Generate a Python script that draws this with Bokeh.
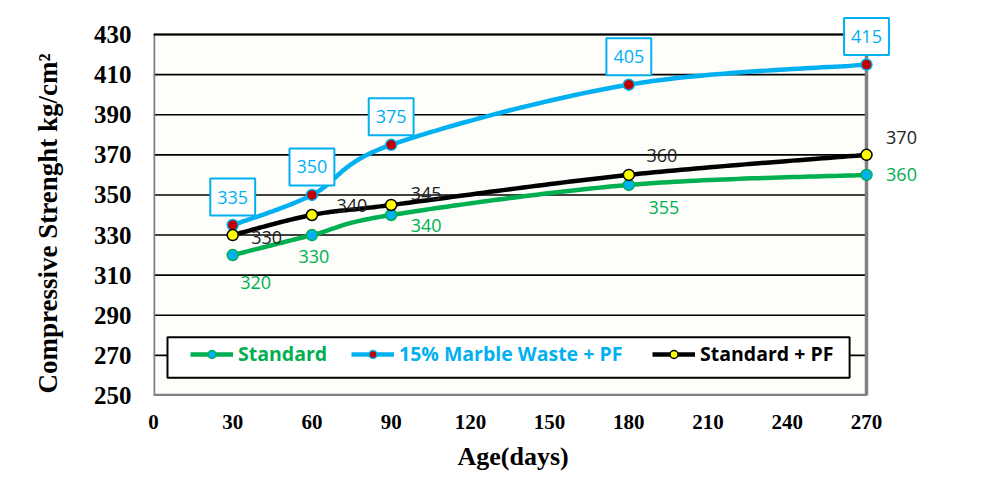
import numpy as np
from bokeh.plotting import figure
from bokeh.models import (ColumnDataSource, Legend, LegendItem, FixedTicker, Range1d,
                          LabelSet, Label, Title)
from bokeh.core.properties import value
from bokeh.embed import file_html
from bokeh.resources import INLINE

# ---- data ----
age_days = [30, 60, 90, 180, 270]
standard = [320, 330, 340, 355, 360]
marble_pf = [335, 350, 375, 405, 415]
standard_pf = [330, 340, 345, 360, 370]
series_names = ["Standard", "15% Marble Waste + PF", "Standard + PF"]
x_ticks = [0, 30, 60, 90, 120, 150, 180, 210, 240, 270]
y_ticks = [250, 270, 290, 310, 330, 350, 370, 390, 410, 430]
X0, X1 = 0, 270
Y0, Y1 = 250, 430

# ---- label offsets (screen px, y up) ----
std_dx = [23, 2, 35, 35, 35]
std_dy = [-27, -21, -10, -23, 0]
pf_dx = [34, 40, 35, 33, 35]
pf_dy = [-2, 10, 11, 19, 17]

GREEN = "#00B050"
BLUE = "#00B0F0"
RED = "#C00000"
YELLOW = "#FFFF00"

FW, FH = 713, 361          # visible plot area (px)
EXT_R, EXT_T = 78, 20      # extra room so labels outside the plot area are not clipped
sx = FW / (X1 - X0)
sy = FH / (Y1 - Y0)

p = figure(width=972, height=475, output_backend="svg", toolbar_location=None,
           x_range=Range1d(X0, X1 + EXT_R / sx), y_range=Range1d(Y0, Y1 + EXT_T / sy),
           frame_width=FW + EXT_R, frame_height=FH + EXT_T,
           min_border_left=153, min_border_right=972 - 153 - FW - EXT_R,
           min_border_top=34 - EXT_T, min_border_bottom=10)
p.background_fill_color = "white"
p.border_fill_color = "white"
p.outline_line_color = None


def smooth(xs, ys, n=40):
    P = np.column_stack([np.array(xs, float) * sx, np.array(ys, float) * sy])
    pts = []
    t = np.linspace(0, 1, n)
    for i in range(len(P) - 1):
        p0 = P[i - 1] if i > 0 else P[i]
        p1 = P[i]
        p2 = P[i + 1]
        p3 = P[i + 2] if i + 2 < len(P) else P[i + 1]
        c1 = p1 + (p2 - p0) / 6.0
        c2 = p2 - (p3 - p1) / 6.0
        seg = (((1 - t) ** 3)[:, None] * p1 + (3 * (1 - t) ** 2 * t)[:, None] * c1
               + (3 * (1 - t) * t ** 2)[:, None] * c2 + (t ** 3)[:, None] * p2)
        pts.append(seg if i == 0 else seg[1:])
    pts = np.vstack(pts)
    return pts[:, 0] / sx, pts[:, 1] / sy


# plot area background + gridlines (drawn manually so they stop at the plot area)
p.grid.visible = False
p.quad(left=[X0], right=[X1], bottom=[Y0], top=[Y1], fill_color="#fdfdfa", line_color=None)
p.segment(x0=[X0] * len(y_ticks), x1=[X1] * len(y_ticks), y0=y_ticks, y1=y_ticks,
          line_color="black", line_width=1.6)
# frame lines: left/bottom/right gray, top black
p.segment(x0=[X0, X0, X1], y0=[Y0, Y0, Y0], x1=[X0, X1, X1], y1=[Y1, Y0, Y1],
          line_color="#808080", line_width=3.5)
p.segment(x0=[X0], y0=[Y1], x1=[X1], y1=[Y1], line_color="black", line_width=2)

# axes (labels only)
p.xaxis.ticker = FixedTicker(ticks=x_ticks)
p.yaxis.ticker = FixedTicker(ticks=y_ticks)
for ax in (p.xaxis[0], p.yaxis[0]):
    ax.axis_line_color = None
    ax.major_tick_line_color = None
    ax.minor_tick_line_color = None
    ax.major_label_text_font = "Liberation Serif"
    ax.major_label_text_font_style = "bold"
    ax.major_label_text_color = "black"
p.yaxis.major_label_text_font_size = "25px"
p.xaxis.major_label_text_font_size = "21px"
p.yaxis.major_label_standoff = 16
p.xaxis.major_label_standoff = 13

# axis titles (as titles so they can be placed relative to the visible plot area)
p.add_layout(Title(text="Age(days)", align="left", offset=304, standoff=16,
                   text_font="Liberation Serif", text_font_style="bold",
                   text_font_size="26px", text_color="black"), "below")
p.add_layout(Title(text="Compressive Strenght kg/cm\u00b2", align="left", offset=2, standoff=55,
                   text_font="Liberation Serif", text_font_style="bold",
                   text_font_size="27px", text_color="black"), "left")

# legend box (white, drawn above grid)
p.quad(left=[5.3], right=[263.6], top=[279], bottom=[258.8], fill_color="white",
       line_color="black", line_width=2)

renderers = []
specs = [
    (standard, GREEN, BLUE, GREEN),
    (marble_pf, BLUE, RED, BLUE),
    (standard_pf, "black", YELLOW, "black"),
]
for vals, lc, fc, oc in specs:
    xs, ys = smooth(age_days, vals)
    lr = p.line(xs, ys, line_color=lc, line_width=4.5)
    sr = p.scatter(age_days, vals, size=11, fill_color=fc, line_color=oc, line_width=1.5)
    renderers.append((lr, sr))

# data labels
src_std = ColumnDataSource(dict(x=age_days, y=standard, t=[str(v) for v in standard],
                                dx=std_dx, dy=std_dy))
p.add_layout(LabelSet(x="x", y="y", text="t", source=src_std, x_offset="dx", y_offset="dy",
                      text_align="center", text_baseline="middle", text_color=GREEN,
                      text_font=value("Open Sans"), text_font_size="18px"))
src_pf = ColumnDataSource(dict(x=age_days, y=standard_pf, t=[str(v) for v in standard_pf],
                               dx=pf_dx, dy=pf_dy))
p.add_layout(LabelSet(x="x", y="y", text="t", source=src_pf, x_offset="dx", y_offset="dy",
                      text_align="center", text_baseline="middle", text_color="#222222",
                      text_font=value("Open Sans"), text_font_size="18px"))
for xv, yv in zip(age_days, marble_pf):
    p.add_layout(Label(x=xv, y=yv, text=str(yv), x_offset=0, y_offset=28,
                       text_align="center", text_baseline="middle", text_color=BLUE,
                       text_font="Open Sans", text_font_size="18px",
                       border_line_color=BLUE, border_line_width=2,
                       background_fill_color="white", padding=[7, 12]))

# legends (one per series so each label gets its own colour)
leg_x = [37, 198, 499]
leg_colors = [GREEN, BLUE, "black"]
for (lr, sr), name, lx, col in zip(renderers, series_names, leg_x, leg_colors):
    lg = Legend(items=[LegendItem(label=name, renderers=[lr, sr])],
                location=(lx, 28), orientation="horizontal",
                padding=0, margin=0, spacing=0, border_line_alpha=0,
                background_fill_alpha=0, glyph_width=43, glyph_height=20,
                label_height=20, label_standoff=5,
                label_text_font="Open Sans", label_text_font_style="bold",
                label_text_font_size="19.5px", label_text_color=col)
    p.add_layout(lg, "center")

open("out.html", "w").write(file_html(p, INLINE))
